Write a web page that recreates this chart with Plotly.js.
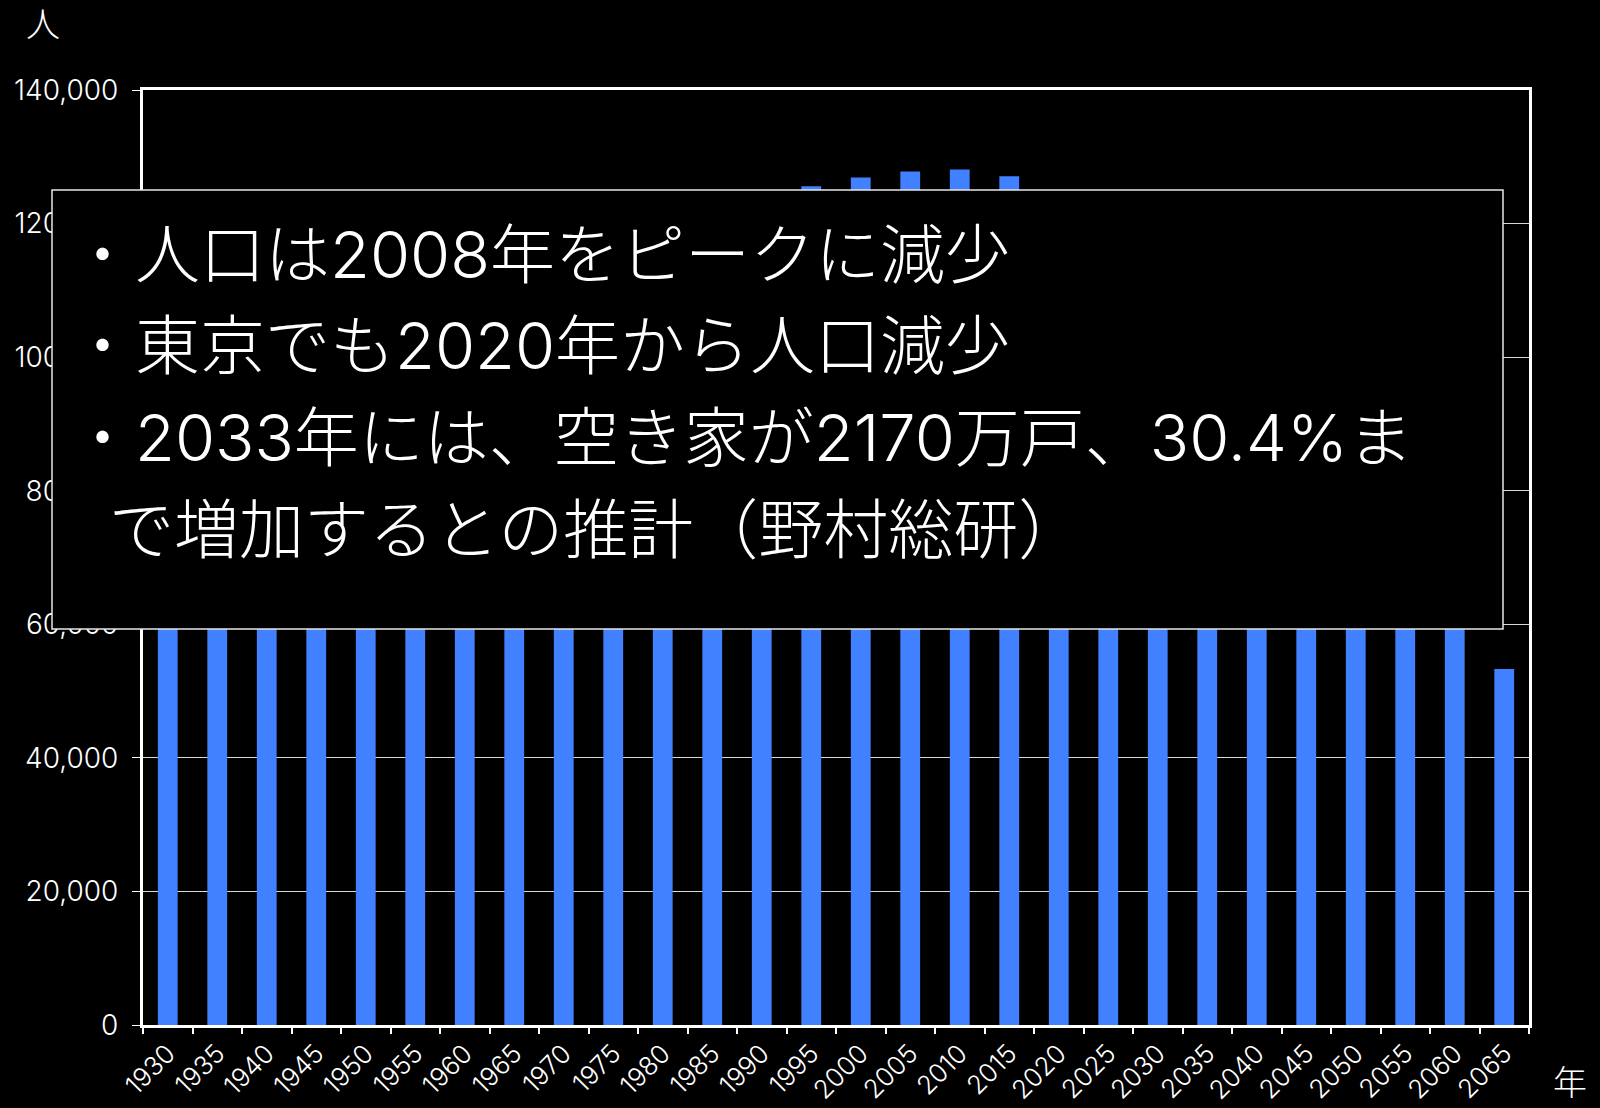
<!DOCTYPE html>
<html>
<head>
<meta charset="utf-8">
<script src="https://cdn.plot.ly/plotly-3.0.1.min.js"></script>
<style>html,body{margin:0;padding:0;background:#000;}#chart{width:1600px;height:1108px;}</style>
</head>
<body>
<div id="chart"></div>
<script>
// Data (population, read/; middle bars hidden behind the text box)
const years = ["1930","1935","1940","1945","1950","1955","1960","1965","1970","1975","1980","1985","1990","1995","2000","2005","2010","2015","2020","2025","2030","2035","2040","2045","2050","2055","2060","2065"];
const population = [64500,69300,71900,72100,84100,90100,94300,99200,104700,111900,117100,121000,123600,125600,126900,127800,128100,127100,124100,120700,116600,112100,107300,102200,97100,91900,86700,53300];
const yTicks = [0,20000,40000,60000,80000,100000,120000,140000];
const noteLines = [
  "・人口は2008年をピークに減少",
  "・東京でも2020年から人口減少",
  "・2033年には、空き家が2170万戸、30.4%ま",
  "で増加するとの推計（野村総研）"
];
const yUnit = "人";
const xUnit = "年";

// Layout geometry (pixels)
const W = 1600, H = 1108;
const L = 143, R = 1529, T = 90, B = 1025;
const pw = R - L, ph = B - T;
const px = x => (x - L) / pw;
const py = y => (B - y) / ph;

const FONT = 'Inter, "Noto Sans CJK JP", "Noto Sans", sans-serif';

const lineX = [68, 68, 68, 107];
const lineY = [254, 345, 437, 529];

const annotations = noteLines.map((t, i) => ({
  text: t, xref: 'paper', yref: 'paper', x: px(lineX[i]), y: py(lineY[i]),
  xanchor: 'left', yanchor: 'middle', showarrow: false,
  font: {family: FONT, size: 65, color: '#ffffff', weight: 300}
}));
annotations.push({text: yUnit, xref: 'paper', yref: 'paper', x: px(43), y: py(25),
  xanchor: 'center', yanchor: 'middle', showarrow: false,
  font: {family: FONT, size: 34, color: '#ffffff', weight: 300}});
annotations.push({text: xUnit, xref: 'paper', yref: 'paper', x: px(1570), y: py(1082),
  xanchor: 'center', yanchor: 'middle', showarrow: false,
  font: {family: FONT, size: 34, color: '#ffffff', weight: 300}});

const trace = {
  type: 'bar', x: years, y: population,
  marker: {color: '#4181ff', line: {width: 0}},
  hoverinfo: 'x+y'
};

const layout = {
  width: W, height: H,
  paper_bgcolor: '#000000', plot_bgcolor: '#000000',
  margin: {l: L, r: W - R, t: T, b: H - B, pad: 0},
  showlegend: false,
  bargap: 0.6,
  font: {family: FONT, color: '#ffffff'},
  xaxis: {
    type: 'category', tickangle: -45, tickson: 'boundaries',
    ticks: 'outside', ticklen: 6, tickwidth: 2, tickcolor: '#ffffff',
    showline: true, linecolor: '#ffffff', linewidth: 3, mirror: true,
    showgrid: false, zeroline: false,
    tickfont: {family: FONT, size: 26, color: '#ffffff', weight: 300}
  },
  yaxis: {
    range: [0, 140000], tickvals: yTicks, tickformat: ',d',
    ticks: 'outside', ticklen: 8, tickwidth: 1, tickcolor: '#ffffff',
    showline: true, linecolor: '#ffffff', linewidth: 3, mirror: true,
    showgrid: true, gridcolor: '#d9d9d9', gridwidth: 1, zeroline: false,
    ticklabelstandoff: 8,
    tickfont: {family: FONT, size: 28, color: '#ffffff', weight: 300}
  },
  shapes: [{
    type: 'rect', xref: 'paper', yref: 'paper', layer: 'above',
    x0: px(52), x1: px(1503), y0: py(629), y1: py(190),
    fillcolor: '#000000', line: {color: '#e6e6e6', width: 1.5}
  }],
  annotations: annotations
};

Plotly.newPlot('chart', [trace], layout, {displayModeBar: false, staticPlot: true});
</script>
</body>
</html>
